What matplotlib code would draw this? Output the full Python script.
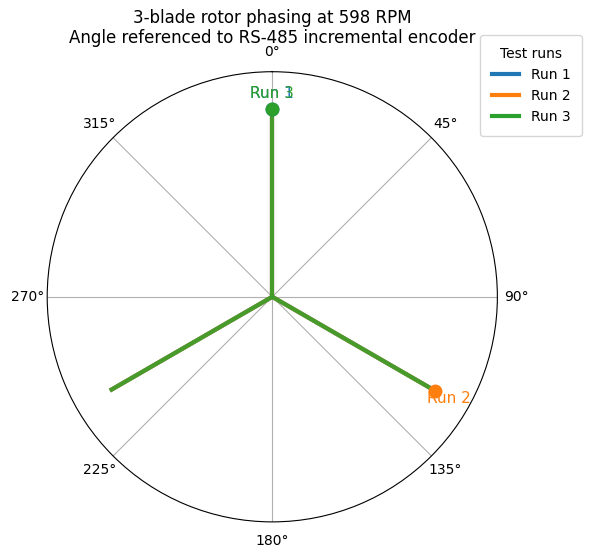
import numpy as np
import matplotlib
matplotlib.use("Agg")
import matplotlib.pyplot as plt
from matplotlib.lines import Line2D

runs = ["Run 1", "Run 2", "Run 3"]
phase_deg = [0, 120, 360]
blade_len = [1.0, 1.0, 1.0]
n_blades = 3
colors = ["#1f77b4", "#ff7f0e", "#2ca02c"]

fig = plt.figure(figsize=(5.9, 5.6), dpi=100)
ax = fig.add_axes([0.08, 0.068, 0.763, 0.804], projection="polar")
ax.set_theta_zero_location("N")
ax.set_theta_direction(-1)

for name, ph, L, c in zip(runs, phase_deg, blade_len, colors):
    for k in range(n_blades):
        th = np.deg2rad(ph + k * 360 / n_blades)
        ax.plot([th, th], [0, L], color=c, lw=3, alpha=0.85, solid_capstyle="butt")

for name, ph, L, c in zip(runs, phase_deg, blade_len, colors):
    th = np.deg2rad(ph)
    ax.plot([th], [L], "o", color=c, ms=9, zorder=4)
    ax.text(th, L + 0.085, name, color=c, ha="center", va="center", fontsize=11)

ax.set_ylim(0, 1.2)
ax.set_yticks([])
ax.set_xticks(np.deg2rad(np.arange(0, 360, 45)))
ax.set_xticklabels([f"{d}°" for d in range(0, 360, 45)])
ax.grid(True, color="#b0b0b0", lw=0.8)

ax.set_title("3-blade rotor phasing at 598 RPM\nAngle referenced to RS-485 incremental encoder",
             fontsize=12, y=1.063, pad=0)

handles = [Line2D([], [], color=c, lw=3) for c in colors]
ax.legend(handles, runs, title="Test runs", loc="upper left",
          bbox_to_anchor=(0.961, 1.081), borderaxespad=0, borderpad=0.85,
          fontsize=10, title_fontsize=10)

fig.savefig("out.png", dpi=100)
